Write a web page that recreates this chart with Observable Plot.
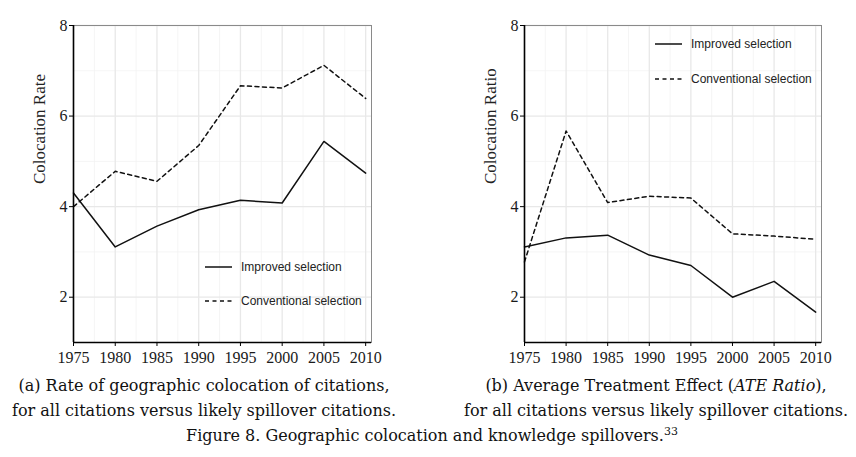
<!DOCTYPE html>
<html>
<head>
<meta charset="utf-8">
<script src="https://cdn.jsdelivr.net/npm/d3@7"></script>
<script src="https://cdn.jsdelivr.net/npm/@observablehq/plot@0.6"></script>
<style>
  html, body { margin: 0; padding: 0; background: #fff; }
  #wrap { position: relative; width: 856px; height: 457px; background: #fff; overflow: hidden; }
  .panel { position: absolute; top: 0; }
  #wrap svg { font-family: 'Liberation Serif', 'Times New Roman', serif !important; }
  .legend { position: absolute; font-family: 'Liberation Sans', Arial, sans-serif; font-size: 12px; color: #222; }
  .legend .row { position: absolute; white-space: nowrap; height: 14px; line-height: 14px; }
  .legend svg { position: absolute; left: 0; top: 0; }
  .legend span { position: absolute; left: 36px; top: 0; }
  .cap { position: absolute; font-family: 'DejaVu Serif', serif; font-size: 16px; line-height: 25px; color: #111; text-align: center; white-space: nowrap; }
</style>
</head>
<body>
<div id="wrap">
  <div id="pa" class="panel" style="left:0"></div>
  <div id="pb" class="panel" style="left:428px"></div>
</div>
<script>
// ---- data ----
const years = [1975, 1980, 1985, 1990, 1995, 2000, 2005, 2010];
const rateImproved     = [4.30, 3.11, 3.57, 3.93, 4.14, 4.08, 5.44, 4.74];
const rateConventional = [4.00, 4.78, 4.56, 5.35, 6.67, 6.62, 7.12, 6.39];
const ratioImproved     = [3.11, 3.31, 3.37, 2.93, 2.70, 2.00, 2.35, 1.67];
const ratioConventional = [2.78, 5.67, 4.09, 4.23, 4.19, 3.40, 3.35, 3.28];
const xMajor = [1975, 1980, 1985, 1990, 1995, 2000, 2005, 2010];
const xMinor = [1977.5, 1982.5, 1987.5, 1992.5, 1997.5, 2002.5, 2007.5];
const yMajor = [2, 4, 6, 8];
const yMinor = [1, 3, 5, 7];
const seriesNames = ["Improved selection", "Conventional selection"];
const yTitles = ["Colocation Rate", "Colocation Ratio"];

const xDomain = [1975, 2010.7];
const yDomain = [1, 8];

function makePanel(improved, conventional, yTitle, mLeft, mRight) {
  const imp = years.map((y, i) => ({year: y, value: improved[i]}));
  const con = years.map((y, i) => ({year: y, value: conventional[i]}));
  return Plot.plot({
    width: 428,
    height: 370,
    marginTop: 25,
    marginBottom: 28,
    marginLeft: mLeft,
    marginRight: mRight,
    style: "font-size:16px;color:#1a1a1a;background:#fff;",
    x: {domain: xDomain},
    y: {domain: yDomain},
    marks: [
      Plot.ruleX(xMinor, {stroke: "#f2f2f2", strokeWidth: 0.8}),
      Plot.ruleY(yMinor, {stroke: "#f2f2f2", strokeWidth: 0.8}),
      Plot.ruleX(xMajor, {stroke: "#e8e8e8", strokeWidth: 1.3}),
      Plot.ruleY(yMajor, {stroke: "#e8e8e8", strokeWidth: 1.3}),
      Plot.frame({stroke: "#8a8a8a", strokeWidth: 1}),
      Plot.line(con, {x: "year", y: "value", stroke: "#111", strokeWidth: 1.5, strokeDasharray: "4,3.5"}),
      Plot.line(imp, {x: "year", y: "value", stroke: "#111", strokeWidth: 1.5}),
      Plot.ruleX([xDomain[0]], {stroke: "#000", strokeWidth: 1.6}),
      Plot.ruleY([yDomain[0]], {stroke: "#000", strokeWidth: 1.6}),
      Plot.axisX({ticks: xMajor, tickFormat: d => String(d), tickSize: 4, tickPadding: 5, label: null, fontSize: 16, stroke: "#000", fill: "#1a1a1a"}),
      Plot.axisY({ticks: yMajor, tickFormat: d => String(d), tickSize: 4, tickPadding: 2, label: null, fontSize: 16, stroke: "#000", fill: "#1a1a1a"}),
      Plot.text([yTitle], {text: d => d, frameAnchor: "left", rotate: -90, dx: -34, fontSize: 17, fill: "#222"})
    ]
  });
}

document.getElementById("pa").appendChild(makePanel(rateImproved, rateConventional, yTitles[0], 73, 57));
document.getElementById("pb").appendChild(makePanel(ratioImproved, ratioConventional, yTitles[1], 96, 35));

// ---- legends (HTML overlays) ----
const wrap = document.getElementById("wrap");
function addLegend(left, top1, top2) {
  const lg = document.createElement("div");
  lg.className = "legend";
  lg.style.left = left + "px";
  lg.style.top = "0px";
  [[top1, null], [top2, "4,3.5"]].forEach(([t, dash], i) => {
    const row = document.createElement("div");
    row.className = "row";
    row.style.top = (t - 7) + "px";
    row.innerHTML = `<svg width="30" height="14"><line x1="0" x2="27" y1="7" y2="7" stroke="#111" stroke-width="1.5" ${dash ? `stroke-dasharray="${dash}"` : ""}/></svg><span>${seriesNames[i]}</span>`;
    lg.appendChild(row);
  });
  wrap.appendChild(lg);
}
addLegend(205, 266.7, 301);
addLegend(655, 44.3, 79.3);

// ---- captions ----
function addCap(html, center, top, w) {
  const d = document.createElement("div");
  d.className = "cap";
  d.style.left = (center - w / 2) + "px";
  d.style.width = w + "px";
  d.style.top = top + "px";
  d.innerHTML = html;
  wrap.appendChild(d);
}
addCap("(a) Rate of geographic colocation of citations,<br>for all citations versus likely spillover citations.", 204, 373, 440);
addCap("(b) Average Treatment Effect (<i>ATE Ratio</i>),<br>for all citations versus likely spillover citations.", 656, 373, 440);
addCap("Figure 8. Geographic colocation and knowledge spillovers.<sup style=\"font-size:11px;line-height:0\">33</sup>", 432, 423, 640);
</script>
</body>
</html>
